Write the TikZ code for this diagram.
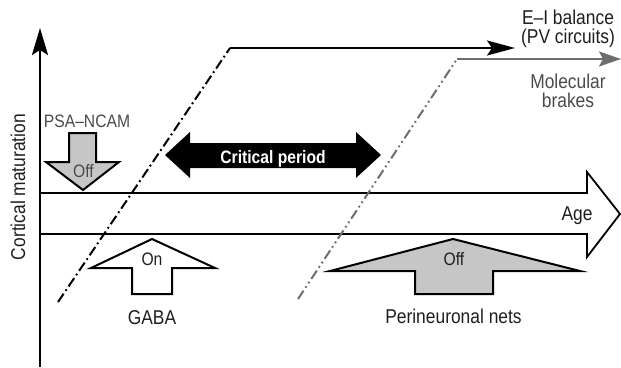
\documentclass[tikz,border=0pt]{standalone}
\usepackage{fontspec}
\setmainfont{Liberation Sans}[FakeStretch=0.87]
\usetikzlibrary{arrows.meta}
\definecolor{boxgray}{HTML}{C6C6C6}
\definecolor{linegray}{HTML}{6E6E6E}
\definecolor{txtgray}{HTML}{4A4A4A}
\definecolor{txtdark}{HTML}{1E1E1E}
\tikzset{
  lbl/.style={inner sep=0pt, anchor=base, text=txtdark, font=\fontsize{20}{22}\selectfont},
  small/.style={inner sep=0pt, anchor=base, font=\fontsize{18}{20}\selectfont},
  bigarrow/.style={draw=black, line width=2pt, line join=miter},
  dashdot/.style={line width=2pt, dash pattern=on 10pt off 3.5pt on 1.8pt off 3.5pt},
  dashdotdot/.style={line width=2pt, dash pattern=on 10pt off 3.5pt on 1.8pt off 3.5pt on 1.8pt off 3.5pt}
}
\begin{document}
\begin{tikzpicture}[x=1pt,y=-1pt]
\useasboundingbox (0,0) rectangle (621,367);
% Age band arrow
\filldraw[bigarrow, fill=white, line width=1.8pt] (40,193) -- (587,193) -- (587,172) -- (620,214) -- (587,257) -- (587,234) -- (40,234);
\node[lbl] (age) at (577,220) {Age};
% vertical axis
\draw[line width=2pt, -{Stealth[length=27pt,width=16pt,inset=5pt]}] (40,367) -- (40,28);
\node[lbl, rotate=90, anchor=base] (cm) at (25,187) {Cortical maturation};
% E-I balance line
\draw[dashdot] (58,302) -- (230,48);
\draw[line width=2pt, -{Stealth[length=28pt,width=15pt,inset=5pt]}] (230,48) -- (515,48);
% molecular brakes line
\draw[dashdotdot, linegray] (298,299) -- (457,59);
\draw[line width=2pt, linegray, -{Stealth[length=22pt,width=15pt,inset=4pt]}] (457,59) -- (621,59);
\node[lbl] (ei1) at (568,24) {E–I balance};
\node[lbl] (ei2) at (568,43) {(PV circuits)};
\node[lbl, text=txtgray] (mb1) at (568,88) {Molecular};
\node[lbl, text=txtgray] (mb2) at (568,107) {brakes};
% PSA-NCAM arrow
\filldraw[bigarrow, fill=boxgray] (69,133) -- (96,133) -- (96,162) -- (119,162) -- (83,190) -- (46,162) -- (69,162) -- cycle;
\node[small, text=txtgray] (psa) at (87,127) {PSA–NCAM};
\node[small, text=txtgray] (psaoff) at (83.5,177) {Off};
% Critical period arrow
\fill[black] (165,155) -- (190,132) -- (190,143) -- (356,143) -- (356,132) -- (381,155) -- (356,178) -- (356,168) -- (190,168) -- (190,178) -- cycle;
\node[small, text=white, font=\fontsize{18}{20}\selectfont\bfseries] (cp) at (273,163) {Critical period};
% GABA arrow
\filldraw[bigarrow, fill=white] (152,239) -- (215,268) -- (172,268) -- (172,294) -- (132,294) -- (132,268) -- (91,268) -- cycle;
\node[small, text=txtdark] (on) at (152,265) {On};
\node[lbl] (gaba) at (152,324) {GABA};
% Perineuronal nets arrow
\filldraw[bigarrow, fill=boxgray] (453,239) -- (580,271) -- (493,271) -- (493,294) -- (415,294) -- (415,271) -- (330,271) -- cycle;
\node[small, text=txtdark] (pnnoff) at (454,265) {Off};
\node[lbl] (pnn) at (453.5,323.5) {Perineuronal nets};
\end{tikzpicture}
\end{document}
